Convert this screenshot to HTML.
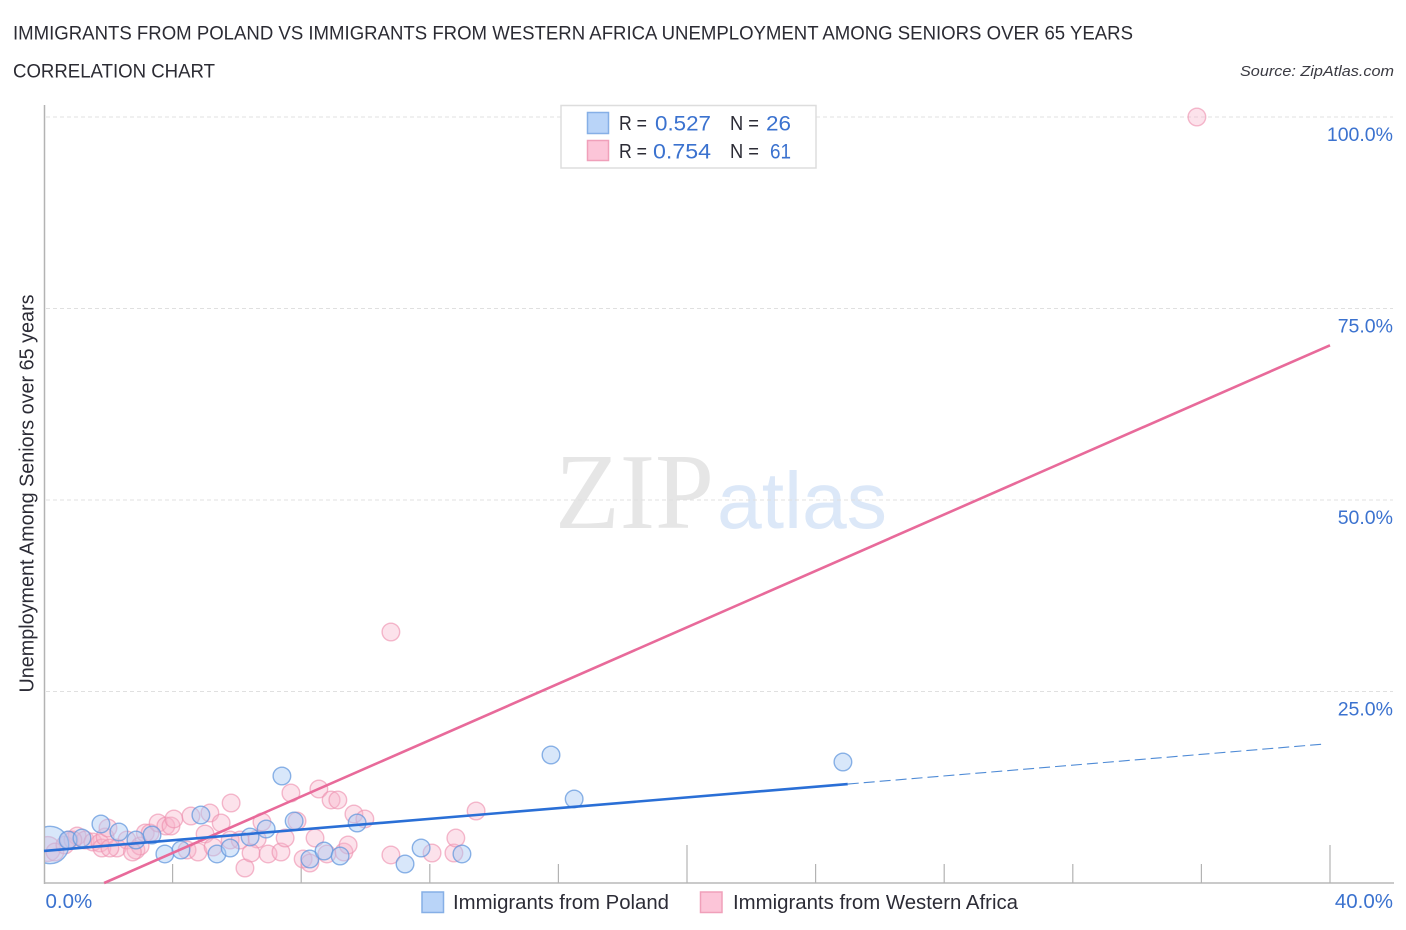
<!DOCTYPE html>
<html lang="en">
<head>
<meta charset="utf-8">
<title>Immigrants from Poland vs Immigrants from Western Africa Unemployment Among Seniors over 65 Years</title>
<style>
  html, body { margin: 0; padding: 0; background: #ffffff; }
  body { width: 1406px; height: 930px; overflow: hidden; }
  svg { display: block; font-family: "Liberation Sans", sans-serif; }
  .title { font-size: 19px; fill: #2b2b33; }
  .blue-text { font-size: 21px; fill: #3b72cf; }
  .dark-text { font-size: 20px; fill: #2c2c36; }
  .tick-label { font-size: 19.5px; fill: #3b72cf; }
  .x-tick-label { font-size: 20.5px; fill: #3b72cf; }
</style>
</head>
<body>
<svg id="chart" width="1406" height="930" viewBox="0 0 1406 930" xmlns="http://www.w3.org/2000/svg">
  <defs>
    <clipPath id="plot-clip"><rect x="45" y="100" width="1350" height="783"></rect></clipPath>
  </defs>
  <text class="title" x="13" y="39.5" textLength="1120" lengthAdjust="spacingAndGlyphs">IMMIGRANTS FROM POLAND VS IMMIGRANTS FROM WESTERN AFRICA UNEMPLOYMENT AMONG SENIORS OVER 65 YEARS</text>
  <text class="title" x="13" y="77.5" textLength="202" lengthAdjust="spacingAndGlyphs">CORRELATION CHART</text>
  <text x="1394" y="76" text-anchor="end" font-size="15" font-style="italic" fill="#3a3a42" textLength="154" lengthAdjust="spacingAndGlyphs">Source: ZipAtlas.com</text>

  <g>
    <text x="555" y="528" font-family="'Liberation Serif', serif" font-size="108" fill="#e6e6e6" textLength="159" lengthAdjust="spacingAndGlyphs">ZIP</text>
    <text x="717" y="528" font-size="80" fill="#dce8f8" textLength="170" lengthAdjust="spacingAndGlyphs">atlas</text>
  </g>

  <g id="grid"></g>
  <g id="axes"></g>
  <g id="pink-points" clip-path="url(#plot-clip)"></g>
  <g id="blue-points" clip-path="url(#plot-clip)"></g>
  <g id="trends"></g>
  <g id="tick-labels"></g>

  <text class="dark-text" transform="translate(33.5 692.5) rotate(-90)" font-size="19" textLength="398" lengthAdjust="spacingAndGlyphs">Unemployment Among Seniors over 65 years</text>

  <g>
    <rect x="561" y="105.5" width="255" height="62.5" fill="#ffffff" stroke="#dddddd" stroke-width="1.5"></rect>
    <rect x="587.5" y="112.5" width="21" height="21" fill="#b9d4f8" stroke="#86afe6" stroke-width="1.5"></rect>
    <rect x="587.5" y="140.5" width="21" height="20" fill="#fcc5d8" stroke="#f0a0ba" stroke-width="1.5"></rect>
    <text class="dark-text" x="619" y="130" textLength="28" lengthAdjust="spacingAndGlyphs">R =</text>
    <text class="blue-text" x="655" y="130.5" textLength="56" lengthAdjust="spacingAndGlyphs">0.527</text>
    <text class="dark-text" x="730" y="130" textLength="29" lengthAdjust="spacingAndGlyphs">N =</text>
    <text class="blue-text" x="766" y="130.5" textLength="25" lengthAdjust="spacingAndGlyphs">26</text>
    <text class="dark-text" x="619" y="158" textLength="28" lengthAdjust="spacingAndGlyphs">R =</text>
    <text class="blue-text" x="653" y="158.5" textLength="58" lengthAdjust="spacingAndGlyphs">0.754</text>
    <text class="dark-text" x="730" y="158" textLength="29" lengthAdjust="spacingAndGlyphs">N =</text>
    <text class="blue-text" x="770" y="158.5" textLength="21" lengthAdjust="spacingAndGlyphs">61</text>
  </g>

  <g>
    <g>
      <rect x="422" y="892" width="21.5" height="20.5" fill="#b9d4f8" stroke="#86afe6" stroke-width="1.5"></rect>
      <text class="dark-text" x="453" y="909" textLength="216" lengthAdjust="spacingAndGlyphs">Immigrants from Poland</text>
    </g>
    <g>
      <rect x="700.5" y="892" width="21.5" height="20.5" fill="#fcc5d8" stroke="#f0a0ba" stroke-width="1.5"></rect>
      <text class="dark-text" x="733" y="909" textLength="285" lengthAdjust="spacingAndGlyphs">Immigrants from Western Africa</text>
    </g>
  </g>
</svg>

<script>
const xTickValues = [4, 8, 12, 16, 20, 24, 28, 32, 36, 40];
const xMajorTicks = [20, 40];
const xTickLabelValues = [0, 40];
const xTickLabels = ["0.0%", "40.0%"];
const yTickValues = [100, 75, 50, 25];
const yTickLabels = ["100.0%", "75.0%", "50.0%", "25.0%"];

const polandX = [0.19, 0.75, 1.18, 1.77, 2.33, 2.86, 3.36, 3.76, 4.26, 4.88, 5.38, 5.79, 6.41, 6.91, 7.40, 7.78, 8.27, 8.71, 9.21, 9.74, 11.23, 11.73, 13.00, 15.77, 16.49, 24.85];
const polandY = [4.96, 5.61, 5.87, 7.70, 6.66, 5.61, 6.27, 3.79, 4.31, 8.88, 3.79, 4.57, 6.01, 7.05, 13.97, 8.09, 3.13, 4.18, 3.52, 7.83, 2.48, 4.57, 3.79, 16.71, 10.97, 15.80];
const polandWeight = [4.5, 1, 1, 1, 1, 1, 1, 1, 1, 1, 1, 1, 1, 1, 1, 1, 1, 1, 1, 1, 1, 1, 1, 1, 1, 1];

const africaX = [0.12, 0.34, 0.65, 0.78, 1.03, 1.28, 1.52, 1.74, 1.80, 1.90, 1.99, 2.27, 2.58, 2.86, 2.99, 3.15, 3.30, 3.55, 3.79, 3.95, 4.04, 4.57, 5.16, 5.82, 5.51, 5.01, 4.45, 4.79, 5.26, 5.79, 6.10, 6.63, 6.78, 6.25, 6.44, 6.97, 7.37, 7.50, 7.68, 7.87, 8.06, 8.27, 8.43, 8.55, 8.80, 8.93, 9.14, 9.33, 9.46, 9.64, 9.98, 10.79, 10.79, 12.07, 12.75, 12.81, 13.44, 35.86, 0.90, 2.05, 2.75];
const africaY = [4.44, 4.05, 4.96, 5.61, 6.14, 5.61, 5.35, 5.22, 4.57, 6.01, 7.18, 4.57, 5.61, 4.31, 4.83, 6.53, 6.53, 7.83, 7.44, 7.44, 8.36, 8.75, 9.14, 10.44, 7.83, 6.40, 4.31, 4.05, 4.70, 5.61, 5.61, 5.74, 7.96, 1.96, 3.92, 3.79, 4.05, 5.87, 11.75, 8.09, 3.13, 2.61, 5.87, 12.27, 3.79, 10.84, 10.84, 4.05, 4.96, 9.01, 8.36, 32.77, 3.66, 3.92, 3.92, 5.87, 9.40, 100, 5.61, 4.57, 4.05];
const africaWeight = [2, 1, 1, 1, 1, 1, 1, 1, 1, 1, 1, 1, 1, 1, 1, 1, 1, 1, 1, 1, 1, 1, 1, 1, 1, 1, 1, 1, 1, 1, 1, 1, 1, 1, 1, 1, 1, 1, 1, 1, 1, 1, 1, 1, 1, 1, 1, 1, 1, 1, 1, 1, 1, 1, 1, 1, 1, 1, 1, 1, 1];

const polandTrendX = [0, 25, 40];
const polandTrendY = [4.18, 12.92, 18.15];
const africaTrendX = [1.87, 40];
const africaTrendY = [0, 70.2];

const SVG_NS = "http://www.w3.org/2000/svg";
const X0 = 44, PX_PER_X = 32.15;
const Y0 = 883, PX_PER_Y = 7.66;
function xScale(v) { return X0 + v * PX_PER_X; }
function yScale(v) { return Y0 - v * PX_PER_Y; }

function make(tag, parentId) {
  const el = document.createElementNS(SVG_NS, tag);
  document.getElementById(parentId).appendChild(el);
  return el;
}
function setAll(el, attrs) {
  Object.keys(attrs).forEach(function (k) { el.setAttribute(k, attrs[k]); });
}

yTickValues.forEach(function (v, i) {
  const line = make("line", "grid");
  
  
  setAll(line, { x1: 46, x2: 1393, y1: yScale(v), y2: yScale(v), stroke: "#e0e0e0", "stroke-width": 1, "stroke-dasharray": "4 3" });

  const label = make("text", "tick-labels");
  
  
  setAll(label, { x: 1393, y: yScale(v) + 24, "text-anchor": "end", class: "tick-label" });
  label.textContent = yTickLabels[i];
});

const yAxis = make("line", "axes");


setAll(yAxis, { x1: 44.5, x2: 44.5, y1: 105, y2: 884, stroke: "#b3b3b3", "stroke-width": 1.5 });

const xAxis = make("line", "axes");


setAll(xAxis, { x1: 44, x2: 1394, y1: 883, y2: 883, stroke: "#b8b8b8", "stroke-width": 1.5 });

xTickValues.forEach(function (v) {
  const tick = make("line", "axes");
  
  
  const top = xMajorTicks.indexOf(v) >= 0 ? 845 : 864;
  setAll(tick, { x1: xScale(v), x2: xScale(v), y1: top, y2: 883, stroke: "#b3b3b3", "stroke-width": 1.2 });
});

xTickLabelValues.forEach(function (v, i) {
  const label = make("text", "tick-labels");
  
  
  if (v === 0) {
    setAll(label, { x: 45.5, y: 908, class: "x-tick-label" });
  } else {
    setAll(label, { x: 1393, y: 908, "text-anchor": "end", class: "x-tick-label" });
  }
  label.textContent = xTickLabels[i];
});

africaX.forEach(function (v, i) {
  const c = make("circle", "pink-points");
  
  
  setAll(c, { cx: xScale(v), cy: yScale(africaY[i]), r: 8.8 * Math.sqrt(africaWeight[i]), fill: "#f8b4cb", "fill-opacity": 0.38, stroke: "#ee8fae", "stroke-opacity": 0.62, "stroke-width": 1.4 });
});

polandX.forEach(function (v, i) {
  const c = make("circle", "blue-points");
  
  
  setAll(c, { cx: xScale(v), cy: yScale(polandY[i]), r: 8.8 * Math.sqrt(polandWeight[i]), fill: "#a9c9f3", "fill-opacity": 0.45, stroke: "#5f96dd", "stroke-opacity": 0.72, "stroke-width": 1.4 });
});

const africaTrend = make("line", "trends");


setAll(africaTrend, { x1: xScale(africaTrendX[0]), y1: yScale(africaTrendY[0]), x2: xScale(africaTrendX[1]), y2: yScale(africaTrendY[1]), stroke: "#e86a9a", "stroke-width": 2.6 });

const polandSolid = make("line", "trends");


setAll(polandSolid, { x1: xScale(polandTrendX[0]), y1: yScale(polandTrendY[0]), x2: xScale(polandTrendX[1]), y2: yScale(polandTrendY[1]), stroke: "#2a6fd6", "stroke-width": 2.6 });

const polandDashed = make("line", "trends");


setAll(polandDashed, { x1: xScale(polandTrendX[1]), y1: yScale(polandTrendY[1]), x2: xScale(polandTrendX[2]) - 5, y2: yScale(polandTrendY[2]), stroke: "#4f8bd6", "stroke-width": 1.1, "stroke-dasharray": "11 5" });
</script>
</body>
</html>
